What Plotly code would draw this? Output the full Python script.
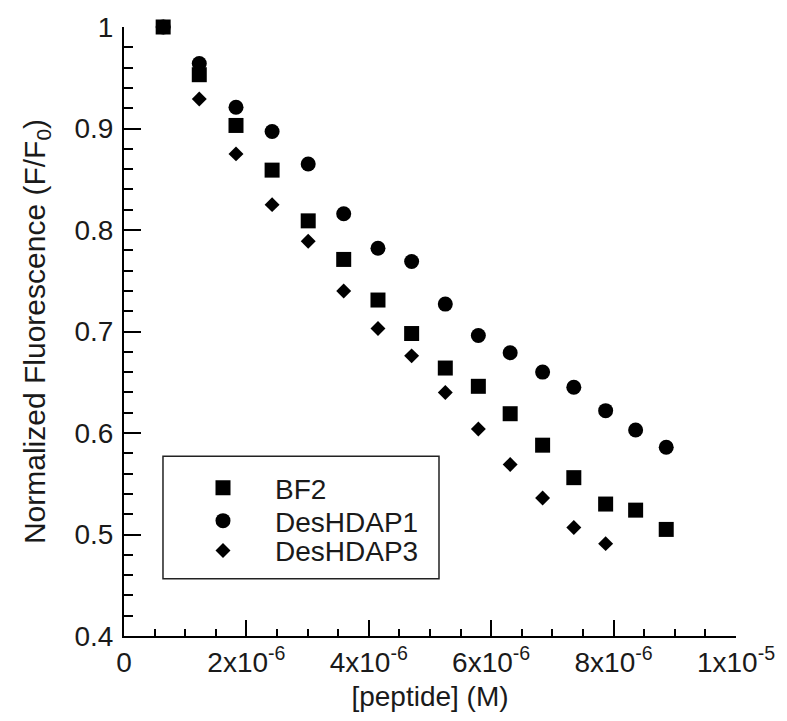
import plotly.graph_objects as go

# Peptide concentration (M) for each titration step
peptide_conc = [0.64e-6, 1.23e-6, 1.83e-6, 2.42e-6, 3.01e-6, 3.59e-6, 4.15e-6, 4.70e-6,
                5.25e-6, 5.79e-6, 6.31e-6, 6.84e-6, 7.35e-6, 7.87e-6, 8.36e-6, 8.86e-6]

# Normalized fluorescence F/F0
bf2 = [1.000, 0.953, 0.903, 0.859, 0.809, 0.771, 0.731, 0.698,
       0.664, 0.646, 0.619, 0.588, 0.556, 0.530, 0.524, 0.505]
deshdap1 = [1.000, 0.964, 0.921, 0.897, 0.865, 0.816, 0.782, 0.769,
            0.727, 0.696, 0.679, 0.660, 0.645, 0.622, 0.603, 0.586]
deshdap3 = [1.000, 0.929, 0.875, 0.825, 0.789, 0.740, 0.703, 0.676,
            0.640, 0.604, 0.569, 0.536, 0.507, 0.491]

x_tick_vals = [0, 2e-6, 4e-6, 6e-6, 8e-6, 1e-5]
x_tick_text = ["0", "2x10<sup>-6</sup>", "4x10<sup>-6</sup>", "6x10<sup>-6</sup>",
               "8x10<sup>-6</sup>", "1x10<sup>-5</sup>"]
y_tick_vals = [0.4, 0.5, 0.6, 0.7, 0.8, 0.9, 1.0]
y_tick_text = ["0.4", "0.5", "0.6", "0.7", "0.8", "0.9", "1"]

FONT = "Arial, Liberation Sans, sans-serif"
INK = "#1a1a1a"

fig = go.Figure()
fig.add_trace(go.Scatter(x=peptide_conc, y=bf2, mode="markers", name="BF2",
                         marker=dict(symbol="square", size=15, color="black"),
                         cliponaxis=False, legend="legend"))
fig.add_trace(go.Scatter(x=peptide_conc, y=deshdap1, mode="markers", name="DesHDAP1",
                         marker=dict(symbol="circle", size=15, color="black"),
                         cliponaxis=False, legend="legend2"))
fig.add_trace(go.Scatter(x=peptide_conc[:len(deshdap3)], y=deshdap3, mode="markers",
                         name="DesHDAP3",
                         marker=dict(symbol="diamond", size=11.5, color="black"),
                         cliponaxis=False, legend="legend3"))

axis_common = dict(showline=True, linecolor="black", linewidth=2, mirror=False,
                   showgrid=False, zeroline=False, ticks="inside", tickcolor="black",
                   tickwidth=2, tickfont=dict(family=FONT, size=28, color=INK))

fig.update_xaxes(range=[0, 1e-5], tickvals=x_tick_vals, ticktext=x_tick_text, ticklen=16,
                 minor=dict(dtick=0.5e-6, ticks="inside", ticklen=7, tickwidth=2,
                            tickcolor="black", showgrid=False),
                 title=dict(text="[peptide] (M)", font=dict(family=FONT, size=28, color=INK),
                            standoff=10),
                 **axis_common)
fig.update_yaxes(range=[0.4, 1.0], tickvals=y_tick_vals, ticktext=y_tick_text, ticklen=17,
                 ticklabelstandoff=3,
                 minor=dict(dtick=0.02, ticks="inside", ticklen=9, tickwidth=2,
                            tickcolor="black", showgrid=False),
                 title=dict(text="Normalized Fluorescence (F/F<sub>0</sub>)",
                            font=dict(family=FONT, size=30, color=INK), standoff=20),
                 **axis_common)

# Legend frame
fig.add_shape(type="rect", xref="paper", yref="paper",
              x0=0.0637, x1=0.5147, y0=0.0942, y1=0.2951,
              line=dict(color="#222222", width=1.5), fillcolor="rgba(0,0,0,0)")

legend_common = dict(x=0.0768, xanchor="left", yanchor="middle",
                     bgcolor="rgba(0,0,0,0)", borderwidth=0, itemwidth=94,
                     font=dict(family=FONT, size=28, color=INK))

fig.update_layout(
    width=787, height=721,
    margin=dict(l=124, r=51, t=23, b=85),
    plot_bgcolor="white", paper_bgcolor="white",
    showlegend=True,
    legend=dict(y=0.2428, **legend_common),
    legend2=dict(y=0.1889, **legend_common),
    legend3=dict(y=0.1399, **legend_common),
)

fig.write_html("out.html")
